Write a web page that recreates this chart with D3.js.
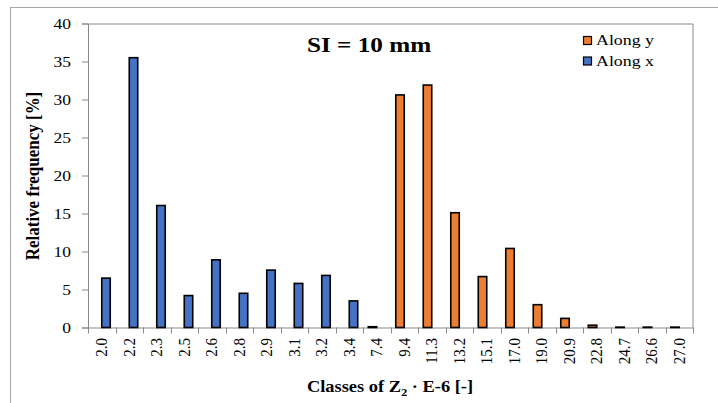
<!DOCTYPE html>
<html>
<head>
<meta charset="utf-8">
<script src="https://cdn.jsdelivr.net/npm/d3@7/dist/d3.min.js"></script>
<style>
  body { margin: 0; background: #fff; }
  text { font-family: "Liberation Serif", "Times New Roman", serif; fill: #000; }
</style>
</head>
<body>
<div id="chart"></div>
<script>
// data
var classes = ["2.0", "2.2", "2.3", "2.5", "2.6", "2.8", "2.9", "3.1", "3.2", "3.4", "7.4",
	"9.4", "11.3", "13.2", "15.1", "17.0", "19.0", "20.9", "22.8", "24.7", "26.6", "27.0"];
var alongY = [0, 0, 0, 0, 0, 0, 0, 0, 0, 0, 0.1,
	30.6, 31.9, 15.1, 6.7, 10.4, 3.0, 1.2, 0.3, 0.05, 0.05, 0.05];
var alongX = [6.5, 35.5, 16.05, 4.2, 8.9, 4.5, 7.55, 5.8, 6.85, 3.5, 0,
	0, 0, 0, 0, 0, 0, 0, 0, 0, 0, 0];
var seriesNames = ["Along y", "Along x"];
var seriesColors = ["#ED7D31", "#4472C4"];
var yTicks = [0, 5, 10, 15, 20, 25, 30, 35, 40];

// svg params
var svgWidth = 718;
var svgHeight = 403;
var margin = { top: 23.5, right: 25, bottom: 75.5, left: 88 };
var width = svgWidth - margin.left - margin.right;
var height = svgHeight - margin.top - margin.bottom;

var svg = d3.select("#chart")
	.append("svg")
	.attr("width", svgWidth)
	.attr("height", svgHeight);

// outer chart border
svg.append("rect")
	.attr("x", 10.5).attr("y", 7.5)
	.attr("width", 740).attr("height", 440)
	.attr("fill", "none")
	.attr("stroke", "#a6a6a6");

var chartGroup = svg.append("g")
	.attr("transform", `translate(${margin.left}, ${margin.top})`);

// scales
var x0 = d3.scaleBand().domain(classes).range([0, width]).padding(0);
var x1 = d3.scaleBand().domain(seriesNames).range([0, x0.bandwidth()]).paddingInner(0).paddingOuter(0.62);
var y = d3.scaleLinear().domain([0, 40]).range([height, 0]);

// plot area frame (top and right)
chartGroup.append("path")
	.attr("d", `M0,0.5H${width}V${height}`)
	.attr("fill", "none")
	.attr("stroke", "#898989");

// y axis
var leftAxis = d3.axisLeft(y).tickValues(yTicks).tickSize(6);
var yAxisG = chartGroup.append("g").call(leftAxis);
yAxisG.select(".domain").attr("stroke", "#898989");
yAxisG.selectAll(".tick line").attr("stroke", "#898989");
yAxisG.selectAll(".tick text")
	.attr("x", -17 / 1.25)
	.attr("dy", "0.36em")
	.attr("transform", "scale(1.25,1)")
	.style("font-size", "14px")
	.style("font-family", "Liberation Serif");

// x axis labels
var bottomAxis = d3.axisBottom(x0).tickSize(0);
var xAxisG = chartGroup.append("g")
	.attr("transform", `translate(0, ${height})`)
	.call(bottomAxis);
xAxisG.select(".domain").attr("stroke", "#898989");
xAxisG.selectAll(".tick text")
	.attr("x", -10.5)
	.attr("y", 0)
	.attr("dy", "0.33em")
	.attr("text-anchor", "end")
	.attr("transform", "scale(1.15,1) rotate(-90)")
	.style("font-size", "15px")
	.style("font-family", "Liberation Serif");

// x tick marks on class boundaries
xAxisG.selectAll(".bound")
	.data(d3.range(classes.length + 1))
	.enter()
	.append("line")
	.attr("class", "bound")
	.attr("x1", i => Math.round(i * x0.step()) + 0.5)
	.attr("x2", i => Math.round(i * x0.step()) + 0.5)
	.attr("y1", 0)
	.attr("y2", 6)
	.attr("stroke", "#898989");

// bars
var seriesData = [alongY, alongX];
seriesData.forEach(function(values, s) {
	var rows = classes.map(function(c, i) { return { cls: c, v: values[i] }; })
		.filter(d => d.v > 0);
	chartGroup.selectAll(".bar" + s)
		.data(rows)
		.enter()
		.append("rect")
		.attr("class", "bar" + s)
		.attr("x", d => x0(d.cls) + x1(seriesNames[s]))
		.attr("y", d => y(d.v))
		.attr("width", x1.bandwidth())
		.attr("height", d => height - y(d.v))
		.attr("fill", seriesColors[s])
		.attr("stroke", "#000")
		.attr("stroke-width", 1.6);
});

// title
chartGroup.append("text")
	.attr("transform", `translate(${369 - margin.left}, ${52 - margin.top}) scale(1.2,1)`)
	.attr("text-anchor", "middle")
	.style("font-size", "21px")
	.style("font-weight", "bold")
	.text("SI = 10 mm");

// legend
var legend = svg.append("g").attr("transform", "translate(583, 36)");
seriesNames.forEach(function(name, i) {
	legend.append("rect")
		.attr("x", 0.5).attr("y", i * 20.5 + 0.5)
		.attr("width", 8).attr("height", 8)
		.attr("fill", seriesColors[i])
		.attr("stroke", "#000")
		.attr("stroke-width", 1.2);
	legend.append("text")
		.attr("transform", `translate(13, ${i * 20.5 + 9}) scale(1.19,1)`)
		.style("font-size", "15px")
		.text(name);
});

// axis titles
svg.append("text")
	.attr("transform", "translate(39, 176) scale(1.13,1) rotate(-90)")
	.attr("text-anchor", "middle")
	.style("font-size", "17px")
	.style("font-weight", "bold")
	.text("Relative frequency [%]");

var xTitle = svg.append("text")
	.attr("transform", "translate(390, 392) scale(1.15,1)")
	.attr("text-anchor", "middle")
	.style("font-size", "16px")
	.style("font-weight", "bold");
xTitle.append("tspan").text("Classes of Z");
xTitle.append("tspan").attr("dy", 4).style("font-size", "11px").text("2");
xTitle.append("tspan").attr("dy", -4).text(" \u00B7 E-6 [-]");
</script>
</body>
</html>
